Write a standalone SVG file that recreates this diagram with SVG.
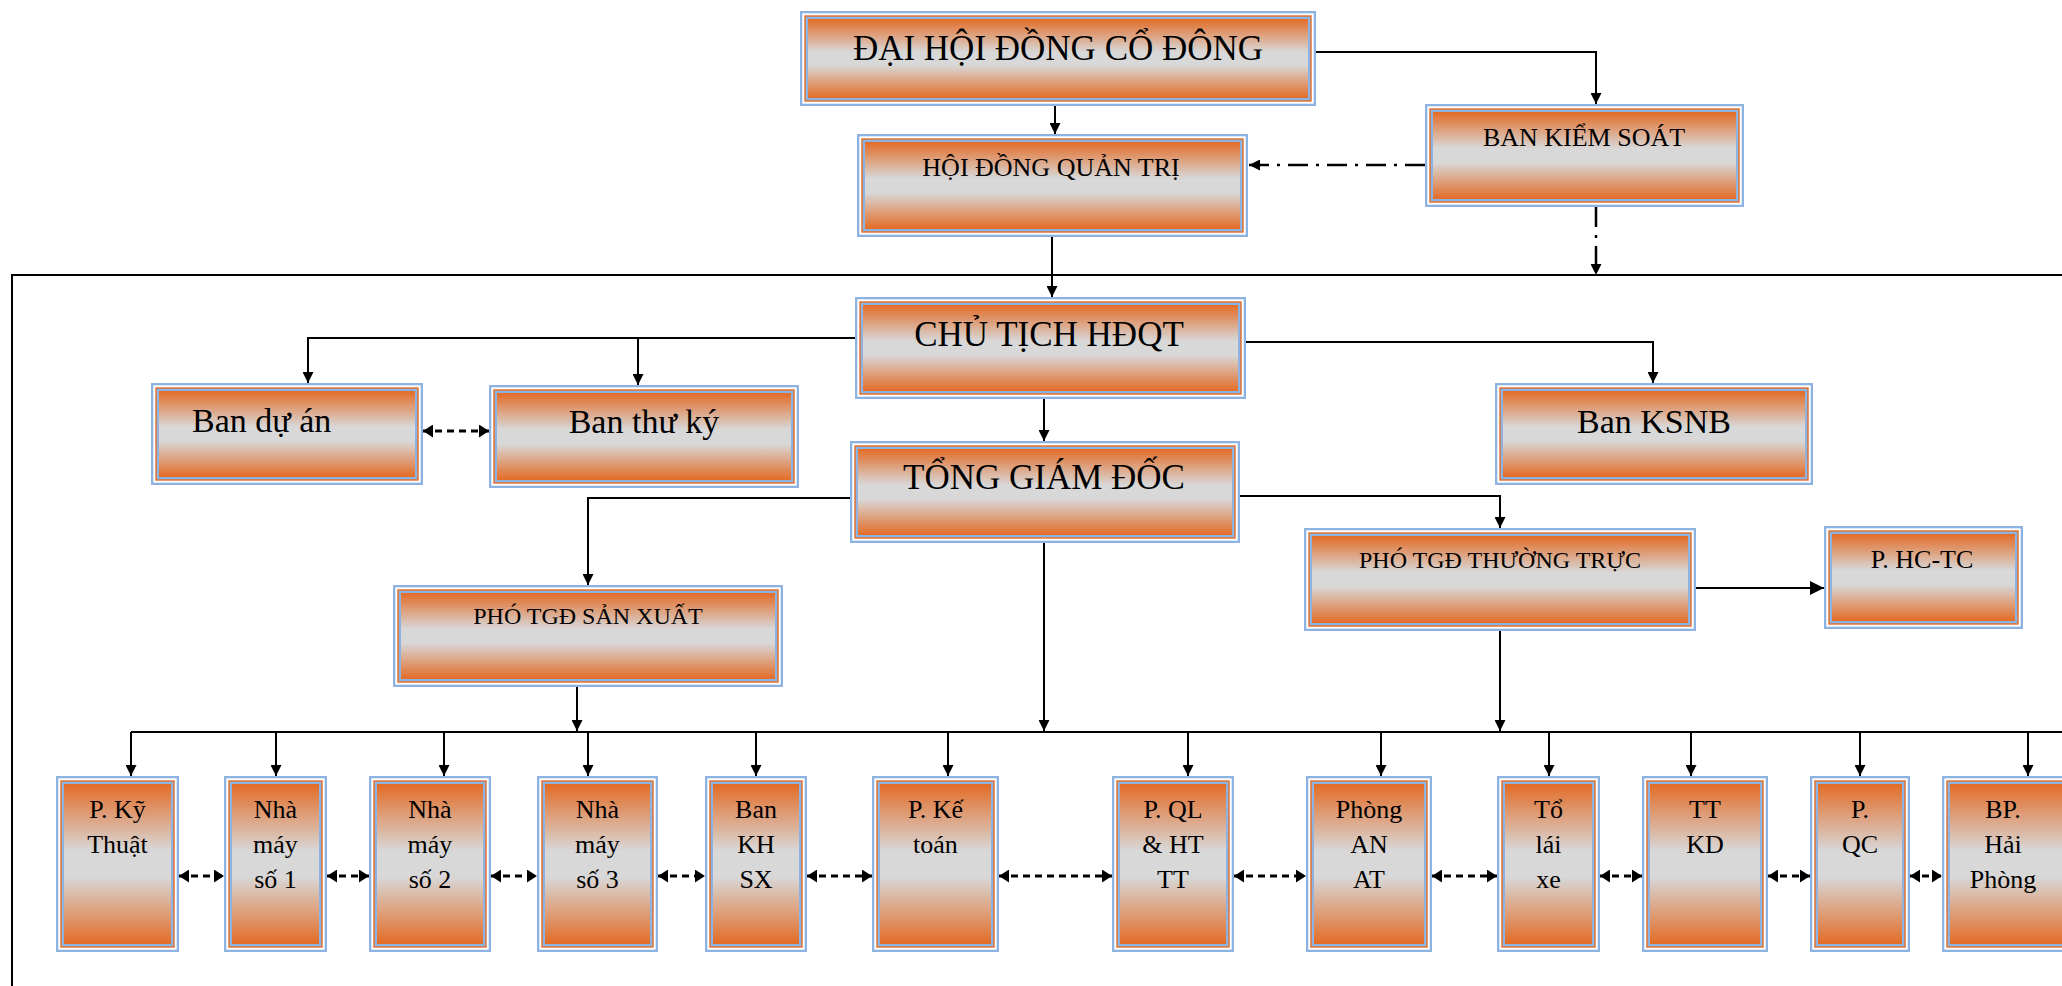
<svg xmlns="http://www.w3.org/2000/svg" width="2062" height="986" viewBox="0 0 2062 986">
<style>
.o{fill:#8DB3E2}.w{fill:#FFFFFF}.r{fill:#E36C27}.f{fill:url(#g)}
text{font-family:"Liberation Serif","Times New Roman",serif;fill:#000;text-anchor:middle}
.t35{font-size:35px}.t34{font-size:34px}.t26{font-size:26px}.t24{font-size:24px}
.ln{fill:none;stroke:#000;stroke-width:2}
.ar{marker-end:url(#ah)}
.dd{fill:none;stroke:#000;stroke-width:2.5;stroke-dasharray:20 8 3 8}
.dsh{fill:none;stroke:#000;stroke-width:2.8;stroke-dasharray:7 5;marker-start:url(#sh);marker-end:url(#sh)}
</style>
<defs>
<linearGradient id="g" x1="0" y1="0" x2="0" y2="1">
<stop offset="0" stop-color="#E36C27"/>
<stop offset="0.42" stop-color="#D8D8D8"/>
<stop offset="0.58" stop-color="#D8D8D8"/>
<stop offset="1" stop-color="#E36C27"/>
</linearGradient>
<marker id="ah" viewBox="0 0 10 10" refX="10" refY="5" markerWidth="11" markerHeight="11" markerUnits="userSpaceOnUse" orient="auto"><path d="M0,0L10,5L0,10z" fill="#000"/></marker>
<marker id="ahb" viewBox="0 0 10 10" refX="10" refY="5" markerWidth="14" markerHeight="14" markerUnits="userSpaceOnUse" orient="auto"><path d="M0,0L10,5L0,10z" fill="#000"/></marker>
<marker id="sh" viewBox="0 0 10 10" refX="10" refY="5" markerWidth="10" markerHeight="13" markerUnits="userSpaceOnUse" orient="auto-start-reverse" preserveAspectRatio="none"><path d="M0,0L10,5L0,10z" fill="#000"/></marker>
</defs>

<g id="connectors">
<path class="ln" d="M2070,275H12V990"/>
<path class="ln ar" d="M1055,106V134"/>
<path class="ln ar" d="M1316,52H1596V104"/>
<path class="dd" d="M1425,165H1249" marker-end="url(#ah)"/>
<path class="dd" d="M1596,207V275" marker-end="url(#ah)"/>
<path class="ln ar" d="M1052,237V297"/>
<path class="ln ar" d="M855,338H308V383"/>
<path class="ln ar" d="M638,338V385"/>
<path class="ln ar" d="M1246,342H1653V383"/>
<path class="ln ar" d="M1044,399V441"/>
<path class="dsh" d="M423,431H489"/>
<path class="ln ar" d="M850,498H588V585"/>
<path class="ln ar" d="M1240,496H1500V528"/>
<path class="ln" d="M1696,588H1824" marker-end="url(#ahb)"/>
<path class="ln ar" d="M1044,543V731"/>
<path class="ln ar" d="M577,687V731"/>
<path class="ln ar" d="M1500,631V731"/>
<path class="ln" d="M131,732H2070"/>
<path class="ln ar" d="M131,732V776"/>
<path class="ln ar" d="M276,732V776"/>
<path class="ln ar" d="M444,732V776"/>
<path class="ln ar" d="M588,732V776"/>
<path class="ln ar" d="M756,732V776"/>
<path class="ln ar" d="M948,732V776"/>
<path class="ln ar" d="M1188,732V776"/>
<path class="ln ar" d="M1381,732V776"/>
<path class="ln ar" d="M1549,732V776"/>
<path class="ln ar" d="M1691,732V776"/>
<path class="ln ar" d="M1860,732V776"/>
<path class="ln ar" d="M2028,732V776"/>
<path class="dsh" d="M179,876H224"/>
<path class="dsh" d="M327,876H369"/>
<path class="dsh" d="M491,876H537"/>
<path class="dsh" d="M658,876H705"/>
<path class="dsh" d="M807,876H872"/>
<path class="dsh" d="M999,876H1112"/>
<path class="dsh" d="M1234,876H1306"/>
<path class="dsh" d="M1432,876H1497"/>
<path class="dsh" d="M1600,876H1642"/>
<path class="dsh" d="M1768,876H1810"/>
<path class="dsh" d="M1910,876H1942"/>
</g>

<g id="dai-hoi-dong-co-dong">
<rect class="o" x="800" y="11" width="516" height="95"/><rect class="w" x="802.3" y="13.3" width="511.4" height="90.4"/><rect class="r" x="804.3" y="15.3" width="507.4" height="86.4"/><rect class="o" x="805.7" y="16.7" width="504.6" height="83.6"/><rect class="f" x="808" y="19" width="500" height="79"/>
<text class="t35" x="1058" y="60">ĐẠI HỘI ĐỒNG CỔ ĐÔNG</text>
</g>
<g id="hoi-dong-quan-tri">
<rect class="o" x="857" y="134" width="391" height="103"/><rect class="w" x="859.3" y="136.3" width="386.4" height="98.4"/><rect class="r" x="861.3" y="138.3" width="382.4" height="94.4"/><rect class="o" x="862.7" y="139.7" width="379.6" height="91.6"/><rect class="f" x="865" y="142" width="375" height="87"/>
<text class="t26" x="1051" y="176">HỘI ĐỒNG QUẢN TRỊ</text>
</g>
<g id="ban-kiem-soat">
<rect class="o" x="1425" y="104" width="319" height="103"/><rect class="w" x="1427.3" y="106.3" width="314.4" height="98.4"/><rect class="r" x="1429.3" y="108.3" width="310.4" height="94.4"/><rect class="o" x="1430.7" y="109.7" width="307.6" height="91.6"/><rect class="f" x="1433" y="112" width="303" height="87"/>
<text class="t26" x="1584" y="146">BAN KIỂM SOÁT</text>
</g>
<g id="chu-tich-hdqt">
<rect class="o" x="855" y="297" width="391" height="102"/><rect class="w" x="857.3" y="299.3" width="386.4" height="97.4"/><rect class="r" x="859.3" y="301.3" width="382.4" height="93.4"/><rect class="o" x="860.7" y="302.7" width="379.6" height="90.6"/><rect class="f" x="863" y="305" width="375" height="86"/>
<text class="t35" x="1049" y="346">CHỦ TỊCH HĐQT</text>
</g>
<g id="ban-du-an">
<rect class="o" x="151" y="383" width="272" height="102"/><rect class="w" x="153.3" y="385.3" width="267.4" height="97.4"/><rect class="r" x="155.3" y="387.3" width="263.4" height="93.4"/><rect class="o" x="156.7" y="388.7" width="260.6" height="90.6"/><rect class="f" x="159" y="391" width="256" height="86"/>
<text class="t34" x="192" y="432" style="text-anchor:start">Ban dự án</text>
</g>
<g id="ban-thu-ky">
<rect class="o" x="489" y="385" width="310" height="103"/><rect class="w" x="491.3" y="387.3" width="305.4" height="98.4"/><rect class="r" x="493.3" y="389.3" width="301.4" height="94.4"/><rect class="o" x="494.7" y="390.7" width="298.6" height="91.6"/><rect class="f" x="497" y="393" width="294" height="87"/>
<text class="t34" x="644" y="433">Ban thư ký</text>
</g>
<g id="ban-ksnb">
<rect class="o" x="1495" y="383" width="318" height="102"/><rect class="w" x="1497.3" y="385.3" width="313.4" height="97.4"/><rect class="r" x="1499.3" y="387.3" width="309.4" height="93.4"/><rect class="o" x="1500.7" y="388.7" width="306.6" height="90.6"/><rect class="f" x="1503" y="391" width="302" height="86"/>
<text class="t34" x="1654" y="433">Ban KSNB</text>
</g>
<g id="tong-giam-doc">
<rect class="o" x="850" y="441" width="390" height="102"/><rect class="w" x="852.3" y="443.3" width="385.4" height="97.4"/><rect class="r" x="854.3" y="445.3" width="381.4" height="93.4"/><rect class="o" x="855.7" y="446.7" width="378.6" height="90.6"/><rect class="f" x="858" y="449" width="374" height="86"/>
<text class="t35" x="1044" y="489">TỔNG GIÁM ĐỐC</text>
</g>
<g id="pho-tgd-san-xuat">
<rect class="o" x="393" y="585" width="390" height="102"/><rect class="w" x="395.3" y="587.3" width="385.4" height="97.4"/><rect class="r" x="397.3" y="589.3" width="381.4" height="93.4"/><rect class="o" x="398.7" y="590.7" width="378.6" height="90.6"/><rect class="f" x="401" y="593" width="374" height="86"/>
<text class="t24" x="588" y="624">PHÓ TGĐ SẢN XUẤT</text>
</g>
<g id="pho-tgd-thuong-truc">
<rect class="o" x="1304" y="528" width="392" height="103"/><rect class="w" x="1306.3" y="530.3" width="387.4" height="98.4"/><rect class="r" x="1308.3" y="532.3" width="383.4" height="94.4"/><rect class="o" x="1309.7" y="533.7" width="380.6" height="91.6"/><rect class="f" x="1312" y="536" width="376" height="87"/>
<text class="t24" x="1500" y="568">PHÓ TGĐ THƯỜNG TRỰC</text>
</g>
<g id="p-hc-tc">
<rect class="o" x="1824" y="526" width="199" height="103"/><rect class="w" x="1826.3" y="528.3" width="194.4" height="98.4"/><rect class="r" x="1828.3" y="530.3" width="190.4" height="94.4"/><rect class="o" x="1829.7" y="531.7" width="187.6" height="91.6"/><rect class="f" x="1832" y="534" width="183" height="87"/>
<text class="t26" x="1922" y="568">P. HC-TC</text>
</g>

<g id="p-ky-thuat">
<rect class="o" x="56" y="776" width="123" height="176"/><rect class="w" x="58.3" y="778.3" width="118.4" height="171.4"/><rect class="r" x="60.3" y="780.3" width="114.4" height="167.4"/><rect class="o" x="61.7" y="781.7" width="111.6" height="164.6"/><rect class="f" x="64" y="784" width="107" height="160"/>
<text class="t26" x="117.5" y="818">P. Kỹ</text><text class="t26" x="117.5" y="853">Thuật</text>
</g>
<g id="nha-may-so-1">
<rect class="o" x="224" y="776" width="103" height="176"/><rect class="w" x="226.3" y="778.3" width="98.4" height="171.4"/><rect class="r" x="228.3" y="780.3" width="94.4" height="167.4"/><rect class="o" x="229.7" y="781.7" width="91.6" height="164.6"/><rect class="f" x="232" y="784" width="87" height="160"/>
<text class="t26" x="275.5" y="818">Nhà</text><text class="t26" x="275.5" y="853">máy</text><text class="t26" x="275.5" y="888">số 1</text>
</g>
<g id="nha-may-so-2">
<rect class="o" x="369" y="776" width="122" height="176"/><rect class="w" x="371.3" y="778.3" width="117.4" height="171.4"/><rect class="r" x="373.3" y="780.3" width="113.4" height="167.4"/><rect class="o" x="374.7" y="781.7" width="110.6" height="164.6"/><rect class="f" x="377" y="784" width="106" height="160"/>
<text class="t26" x="430" y="818">Nhà</text><text class="t26" x="430" y="853">máy</text><text class="t26" x="430" y="888">số 2</text>
</g>
<g id="nha-may-so-3">
<rect class="o" x="537" y="776" width="121" height="176"/><rect class="w" x="539.3" y="778.3" width="116.4" height="171.4"/><rect class="r" x="541.3" y="780.3" width="112.4" height="167.4"/><rect class="o" x="542.7" y="781.7" width="109.6" height="164.6"/><rect class="f" x="545" y="784" width="105" height="160"/>
<text class="t26" x="597.5" y="818">Nhà</text><text class="t26" x="597.5" y="853">máy</text><text class="t26" x="597.5" y="888">số 3</text>
</g>
<g id="ban-kh-sx">
<rect class="o" x="705" y="776" width="102" height="176"/><rect class="w" x="707.3" y="778.3" width="97.4" height="171.4"/><rect class="r" x="709.3" y="780.3" width="93.4" height="167.4"/><rect class="o" x="710.7" y="781.7" width="90.6" height="164.6"/><rect class="f" x="713" y="784" width="86" height="160"/>
<text class="t26" x="756" y="818">Ban</text><text class="t26" x="756" y="853">KH</text><text class="t26" x="756" y="888">SX</text>
</g>
<g id="p-ke-toan">
<rect class="o" x="872" y="776" width="127" height="176"/><rect class="w" x="874.3" y="778.3" width="122.4" height="171.4"/><rect class="r" x="876.3" y="780.3" width="118.4" height="167.4"/><rect class="o" x="877.7" y="781.7" width="115.6" height="164.6"/><rect class="f" x="880" y="784" width="111" height="160"/>
<text class="t26" x="935.5" y="818">P. Kế</text><text class="t26" x="935.5" y="853">toán</text>
</g>
<g id="p-ql-ht-tt">
<rect class="o" x="1112" y="776" width="122" height="176"/><rect class="w" x="1114.3" y="778.3" width="117.4" height="171.4"/><rect class="r" x="1116.3" y="780.3" width="113.4" height="167.4"/><rect class="o" x="1117.7" y="781.7" width="110.6" height="164.6"/><rect class="f" x="1120" y="784" width="106" height="160"/>
<text class="t26" x="1173" y="818">P. QL</text><text class="t26" x="1173" y="853">&amp; HT</text><text class="t26" x="1173" y="888">TT</text>
</g>
<g id="phong-an-at">
<rect class="o" x="1306" y="776" width="126" height="176"/><rect class="w" x="1308.3" y="778.3" width="121.4" height="171.4"/><rect class="r" x="1310.3" y="780.3" width="117.4" height="167.4"/><rect class="o" x="1311.7" y="781.7" width="114.6" height="164.6"/><rect class="f" x="1314" y="784" width="110" height="160"/>
<text class="t26" x="1369" y="818">Phòng</text><text class="t26" x="1369" y="853">AN</text><text class="t26" x="1369" y="888">AT</text>
</g>
<g id="to-lai-xe">
<rect class="o" x="1497" y="776" width="103" height="176"/><rect class="w" x="1499.3" y="778.3" width="98.4" height="171.4"/><rect class="r" x="1501.3" y="780.3" width="94.4" height="167.4"/><rect class="o" x="1502.7" y="781.7" width="91.6" height="164.6"/><rect class="f" x="1505" y="784" width="87" height="160"/>
<text class="t26" x="1548.5" y="818">Tổ</text><text class="t26" x="1548.5" y="853">lái</text><text class="t26" x="1548.5" y="888">xe</text>
</g>
<g id="tt-kd">
<rect class="o" x="1642" y="776" width="126" height="176"/><rect class="w" x="1644.3" y="778.3" width="121.4" height="171.4"/><rect class="r" x="1646.3" y="780.3" width="117.4" height="167.4"/><rect class="o" x="1647.7" y="781.7" width="114.6" height="164.6"/><rect class="f" x="1650" y="784" width="110" height="160"/>
<text class="t26" x="1705" y="818">TT</text><text class="t26" x="1705" y="853">KD</text>
</g>
<g id="p-qc">
<rect class="o" x="1810" y="776" width="100" height="176"/><rect class="w" x="1812.3" y="778.3" width="95.4" height="171.4"/><rect class="r" x="1814.3" y="780.3" width="91.4" height="167.4"/><rect class="o" x="1815.7" y="781.7" width="88.6" height="164.6"/><rect class="f" x="1818" y="784" width="84" height="160"/>
<text class="t26" x="1860" y="818">P.</text><text class="t26" x="1860" y="853">QC</text>
</g>
<g id="bp-hai-phong">
<rect class="o" x="1942" y="776" width="128" height="176"/><rect class="w" x="1944.3" y="778.3" width="123.4" height="171.4"/><rect class="r" x="1946.3" y="780.3" width="119.4" height="167.4"/><rect class="o" x="1947.7" y="781.7" width="116.6" height="164.6"/><rect class="f" x="1950" y="784" width="112" height="160"/>
<text class="t26" x="2003" y="818">BP.</text><text class="t26" x="2003" y="853">Hải</text><text class="t26" x="2003" y="888">Phòng</text>
</g>
</svg>
